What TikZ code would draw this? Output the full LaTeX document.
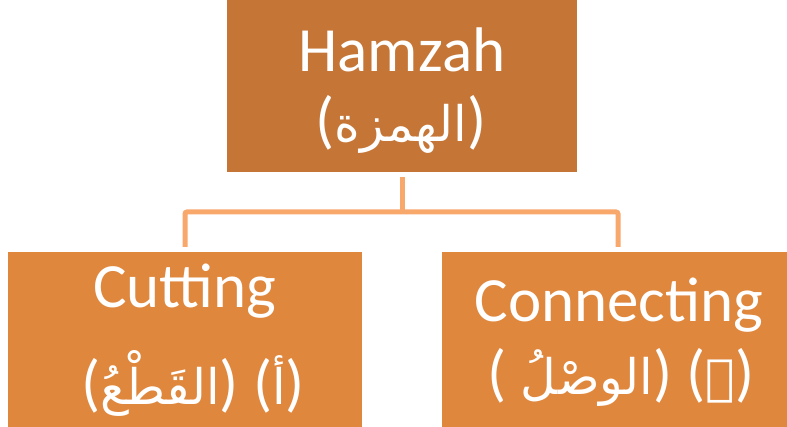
\documentclass[tikz,border=0pt]{standalone}
\usepackage{fontspec}
\setmainfont{Carlito}
\newfontfamily\arabicfont[Script=Arabic]{DejaVu Sans}
\TeXXeTstate=1
\definecolor{topfill}{RGB}{197,118,55}
\definecolor{childfill}{RGB}{224,135,62}
\definecolor{linkcol}{RGB}{249,168,108}
\newcommand{\ar}[1]{{\arabicfont\fontsize{49}{60}\selectfont\beginR #1\endR}}
\begin{document}
\begin{tikzpicture}[x=1pt,y=-1pt,
  tile/.style={inner sep=0pt, outer sep=0pt, draw=none},
  label/.style={anchor=base, inner sep=0pt, text=white,
    font=\fontsize{63}{75}\selectfont},
  link/.style={draw=linkcol, line width=5pt, rounded corners=2pt}]
\useasboundingbox (0,0) rectangle (787,427);
% boxes
\node[tile, fill=topfill, minimum width=350pt, minimum height=172pt] (top) at (402,86) {};
\node[tile, fill=childfill, minimum width=354pt, minimum height=175pt] (cut) at (185,339.5) {};
\node[tile, fill=childfill, minimum width=345pt, minimum height=175pt] (con) at (614.5,339.5) {};
% connectors
\coordinate (bar) at (402,212);
\draw[link] ([yshift=-5pt]top.south) -- (bar);
\draw[link] ([yshift=5pt]cut.north) |- (bar) -| ([xshift=3.5pt,yshift=5pt]con.north);
% labels
\node[label] (topA) at (402,72) {Hamzah};
\node[label] (topB) at (401,142) {(\ar{الهمزة})};
\node[label] (cutA) at (185,308) {Cutting};
\node[label] (cutB) at (193,404) {(\ar{القَطْعُ}) (\ar{أ})};
\node[label] (conA) at (619,322) {Connecting};
\node[label] (conB) at (621,395) {( \ar{الوصْلُ}) (\ar{ٱ})};
\end{tikzpicture}
\end{document}
